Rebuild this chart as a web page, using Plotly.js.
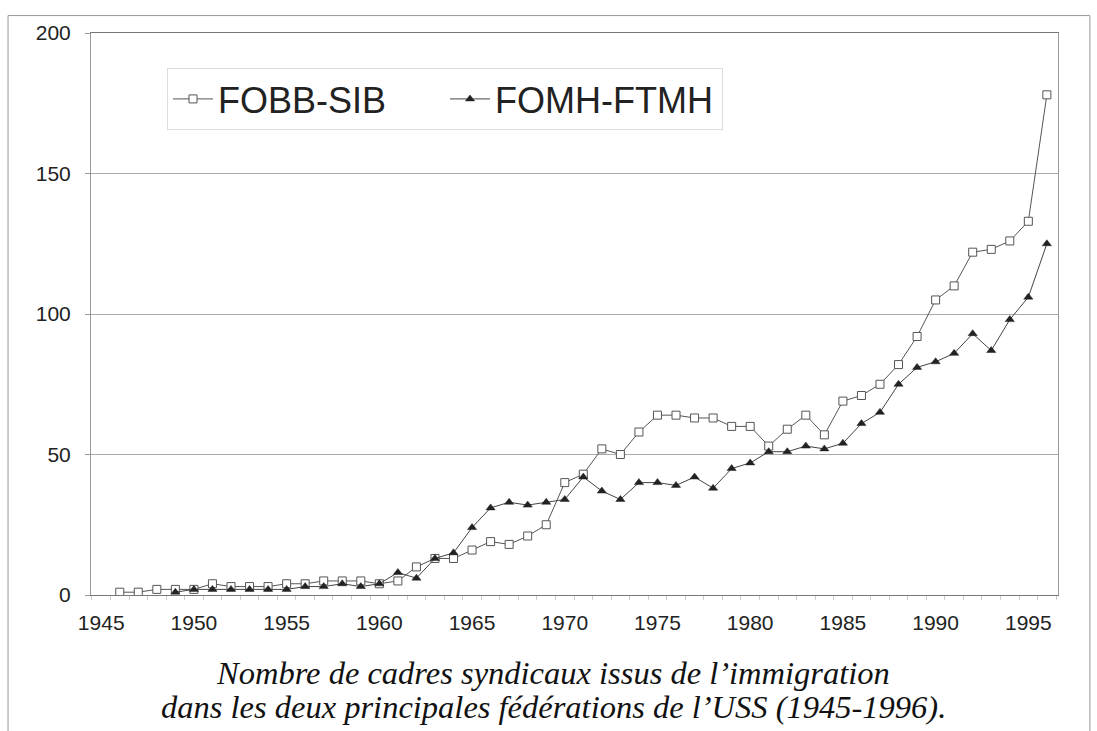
<!DOCTYPE html>
<html>
<head>
<meta charset="utf-8">
<script src="https://cdn.plot.ly/plotly-3.0.1.min.js"></script>
<style>html,body{margin:0;padding:0;background:#fff;}#chart{width:1097px;height:731px;}</style>
</head>
<body>
<div id="chart"></div>
<script>
var fobbYears = [1946,1947,1948,1949,1950,1951,1952,1953,1954,1955,1956,1957,1958,1959,1960,1961,1962,1963,1964,1965,1966,1967,1968,1969,1970,1971,1972,1973,1974,1975,1976,1977,1978,1979,1980,1981,1982,1983,1984,1985,1986,1987,1988,1989,1990,1991,1992,1993,1994,1995,1996];
var fobbValues = [1,1,2,2,2,4,3,3,3,4,4,5,5,5,4,5,10,13,13,16,19,18,21,25,40,43,52,50,58,64,64,63,63,60,60,53,59,64,57,69,71,75,82,92,105,110,122,123,126,133,178];
var fomhYears = [1949,1950,1951,1952,1953,1954,1955,1956,1957,1958,1959,1960,1961,1962,1963,1964,1965,1966,1967,1968,1969,1970,1971,1972,1973,1974,1975,1976,1977,1978,1979,1980,1981,1982,1983,1984,1985,1986,1987,1988,1989,1990,1991,1992,1993,1994,1995,1996];
var fomhValues = [1,2,2,2,2,2,2,3,3,4,3,4,8,6,13,15,24,31,33,32,33,34,42,37,34,40,40,39,42,38,45,47,51,51,53,52,54,61,65,75,81,83,86,93,87,98,106,125];
var seriesNames = ["FOBB-SIB", "FOMH-FTMH"];
var xTickVals = [1945,1950,1955,1960,1965,1970,1975,1980,1985,1990,1995];
var yTickVals = [0,50,100,150,200];
var captionLines = ["Nombre de cadres syndicaux issus de l\u2019immigration", "dans les deux principales fédérations de l\u2019USS (1945-1996)."];

var traces = [
  {x: fobbYears, y: fobbValues, name: seriesNames[0], type: 'scatter', mode: 'lines+markers',
   line: {color: '#555', width: 1},
   marker: {symbol: 'square', size: 8, color: '#fff', line: {color: '#555', width: 1}}},
  {x: fomhYears, y: fomhValues, name: seriesNames[1], type: 'scatter', mode: 'lines+markers',
   line: {color: '#444', width: 1},
   marker: {symbol: 'triangle-up', size: 8, color: '#222', line: {color: '#222', width: 0.5}}}
];

var layout = {
  width: 1097, height: 731,
  margin: {l: 91, r: 39, t: 33, b: 136},
  paper_bgcolor: '#fff', plot_bgcolor: '#fff',
  showlegend: true,
  font: {family: 'Liberation Sans, Arial, sans-serif', color: '#222'},
  legend: {
    orientation: 'h', x: 0.0786, y: 0.9377, xanchor: 'left', yanchor: 'top',
    font: {size: 36, color: '#222', family: 'Liberation Sans, Arial, sans-serif'},
    bgcolor: '#fff', bordercolor: '#ddd', borderwidth: 1,
    itemwidth: 40, entrywidth: 222, entrywidthmode: 'pixels', tracegroupgap: 0
  },
  xaxis: {
    range: [1944.45, 1996.6], tickmode: 'array', tickvals: xTickVals,
    ticks: '', showgrid: false, zeroline: false,
    showline: true, linecolor: '#777', linewidth: 1, mirror: true,
    tickfont: {size: 21, color: '#222'}, ticklabelstandoff: 9,
    minor: {tickmode: 'linear', tick0: 1944.5, dtick: 1, ticks: 'outside', ticklen: 4, tickcolor: '#ccc', showgrid: false}
  },
  yaxis: {
    range: [0, 200], tickmode: 'array', tickvals: yTickVals,
    ticks: 'outside', ticklen: 5, tickcolor: '#999',
    showgrid: true, gridcolor: '#aaa', gridwidth: 1, zeroline: false,
    showline: true, linecolor: '#999', linewidth: 1, mirror: true,
    tickfont: {size: 21, color: '#222'}, ticklabelstandoff: 10
  },
  shapes: [
    {type: 'rect', xref: 'paper', yref: 'paper', x0: -0.0858, x1: 1.033, y0: -0.3, y1: 1.031,
     line: {color: '#999', width: 1}, fillcolor: 'rgba(0,0,0,0)', layer: 'below'}
  ],
  annotations: [
    {xref: 'paper', yref: 'paper', x: 0.478, y: -0.1385, xanchor: 'center', yanchor: 'middle', showarrow: false,
     text: '<i>' + captionLines[0] + '</i>', font: {family: 'Liberation Serif, Times New Roman, serif', size: 32.5, color: '#111'}},
    {xref: 'paper', yref: 'paper', x: 0.478, y: -0.199, xanchor: 'center', yanchor: 'middle', showarrow: false,
     text: '<i>' + captionLines[1] + '</i>', font: {family: 'Liberation Serif, Times New Roman, serif', size: 32.5, color: '#111'}}
  ]
};

Plotly.newPlot('chart', traces, layout, {displayModeBar: false, staticPlot: true});
</script>
</body>
</html>
